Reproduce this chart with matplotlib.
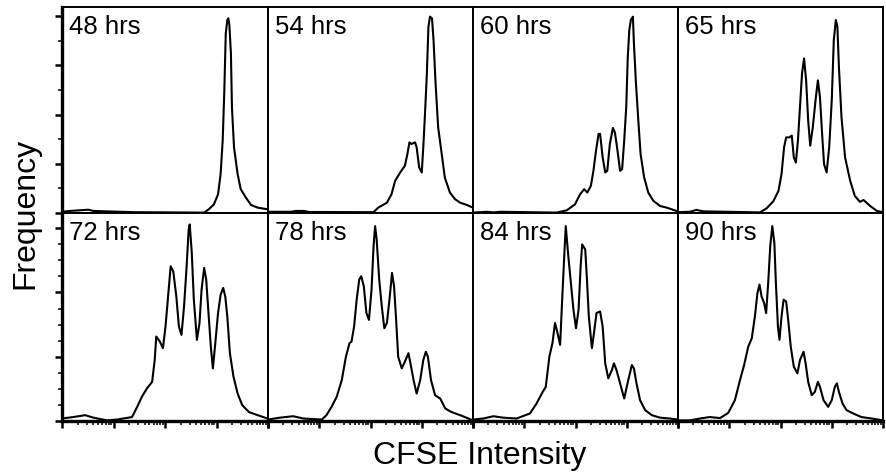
import matplotlib
matplotlib.use("Agg")
import matplotlib.pyplot as plt
import numpy as np
from matplotlib.ticker import LogLocator, MultipleLocator, NullFormatter

plt.rcParams['font.family'] = ['Liberation Sans', 'DejaVu Sans']

# ---- data: log10 CFSE intensity (x) and relative frequency in % of panel height (y)
labels = ["48 hrs", "54 hrs", "60 hrs", "65 hrs", "72 hrs", "78 hrs", "84 hrs", "90 hrs"]

h48_x = [0.0, 0.16, 0.51, 0.61, 1.39, 2.76, 2.85, 2.95, 3.03, 3.08, 3.12, 3.15, 3.18, 3.21, 3.23,
         3.25, 3.28, 3.30, 3.34, 3.41, 3.47, 3.57, 3.67, 3.80, 3.99, 4.0]
h48_y = [0.6, 1.0, 1.6, 1.0, 0.4, 0.2, 1.8, 4.2, 9.1, 18.9, 35.1, 57.9, 87.2, 93.7, 94.5,
         91.2, 77.4, 51.4, 31.9, 18.9, 11.6, 7.5, 3.9, 2.6, 1.8, 1.8]

h54_x = [0.0, 0.45, 0.55, 0.7, 0.8, 2.06, 2.15, 2.32, 2.41, 2.48, 2.58, 2.67, 2.72, 2.76, 2.80,
         2.87, 2.90, 2.95, 3.00, 3.03, 3.06, 3.10, 3.13, 3.16, 3.20, 3.23, 3.27, 3.32, 3.39,
         3.45, 3.55, 3.65, 3.75, 3.88, 4.0]
h54_y = [0.6, 0.6, 1.0, 1.0, 0.5, 0.4, 2.6, 5.0, 9.1, 15.6, 19.7, 22.9, 28.6, 34.3, 33.5,
         34.3, 31.9, 22.1, 19.7, 31.9, 46.5, 67.7, 90.4, 95.3, 94.5, 83.9, 62.8, 41.6, 28.6,
         17.2, 9.9, 6.7, 5.0, 3.9, 2.6]

h60_x = [0.0, 0.27, 0.4, 0.53, 1.63, 1.83, 1.99, 2.09, 2.17, 2.23, 2.30, 2.35, 2.40, 2.45, 2.48,
         2.53, 2.58, 2.62, 2.67, 2.73, 2.77, 2.82, 2.87, 2.91, 2.95, 2.99, 3.02, 3.05, 3.08,
         3.12, 3.14, 3.18, 3.23, 3.27, 3.34, 3.42, 3.52, 3.65, 3.78, 3.97, 4.0]
h60_y = [0.2, 0.6, 0.3, 0.6, 0.2, 1.3, 4.2, 9.1, 11.6, 9.9, 13.2, 20.5, 30.2, 38.4, 38.4,
         27.0, 19.7, 20.5, 33.5, 41.3, 39.0, 30.2, 20.5, 21.3, 35.1, 51.4, 75.8, 88.8, 93.7,
         95.3, 82.3, 62.8, 43.3, 28.6, 17.2, 9.9, 5.9, 3.4, 2.6, 1.0, 1.0]

h65_x = [0.0, 0.23, 0.36, 0.49, 1.60, 1.73, 1.86, 1.96, 2.02, 2.07, 2.11, 2.17, 2.22, 2.26, 2.30,
         2.34, 2.38, 2.42, 2.46, 2.50, 2.54, 2.58, 2.63, 2.69, 2.73, 2.77, 2.82, 2.85, 2.90,
         2.95, 3.00, 3.04, 3.08, 3.11, 3.14, 3.19, 3.26, 3.36, 3.45, 3.55, 3.62, 3.75, 3.88, 4.0]
h65_y = [0.4, 0.6, 1.5, 0.8, 0.3, 2.3, 5.7, 10.7, 18.9, 31.9, 36.7, 36.7, 37.6, 27.0, 24.5,
         35.1, 51.4, 67.7, 75.0, 64.4, 44.9, 32.7, 41.6, 56.2, 64.4, 56.2, 35.1, 23.7, 19.7,
         31.9, 54.6, 83.9, 93.7, 90.4, 70.9, 46.5, 27.0, 15.6, 8.3, 5.4, 6.3, 3.4, 1.0, 0.4]

h72_x = [0.0, 0.22, 0.45, 0.61, 0.87, 1.07, 1.36, 1.46, 1.55, 1.65, 1.75, 1.80, 1.83, 1.90, 1.96,
         2.01, 2.06, 2.11, 2.16, 2.22, 2.27, 2.32, 2.37, 2.42, 2.46, 2.48, 2.52, 2.56, 2.62,
         2.67, 2.71, 2.76, 2.80, 2.84, 2.89, 2.93, 2.97, 3.03, 3.08, 3.13, 3.17, 3.21, 3.26,
         3.33, 3.41, 3.50, 3.63, 3.80, 3.99]
h72_y = [1.2, 1.9, 2.8, 1.6, 0.3, 0.7, 1.9, 6.8, 11.6, 15.7, 18.8, 29.3, 40.6, 38.2, 35.0,
         45.4, 59.9, 74.4, 72.0, 59.9, 45.4, 41.4, 55.1, 74.4, 92.1, 94.5, 80.9, 58.3, 39.0,
         47.1, 63.1, 73.6, 68.0, 53.5, 35.7, 25.3, 35.7, 51.9, 60.7, 64.0, 59.9, 50.2, 32.6,
         21.3, 13.2, 7.6, 4.3, 2.8, 1.2]

h78_x = [0.0, 0.23, 0.49, 0.69, 1.05, 1.14, 1.24, 1.34, 1.44, 1.52, 1.59, 1.63, 1.68, 1.73, 1.78,
         1.82, 1.87, 1.92, 1.97, 2.02, 2.06, 2.09, 2.12, 2.17, 2.22, 2.27, 2.32, 2.37, 2.42,
         2.46, 2.50, 2.54, 2.61, 2.67, 2.74, 2.78, 2.84, 2.90, 2.97, 3.03, 3.08, 3.12, 3.18,
         3.26, 3.36, 3.46, 3.58, 3.75, 3.91, 4.0]
h78_y = [0.7, 1.6, 2.3, 1.2, 0.7, 2.8, 6.8, 11.6, 19.7, 30.9, 37.4, 38.2, 45.4, 58.3, 68.0,
         69.6, 64.7, 51.9, 48.6, 63.1, 84.1, 93.7, 87.3, 68.0, 55.1, 44.6, 47.1, 58.3, 71.2,
         64.7, 48.6, 30.9, 25.3, 28.5, 32.6, 27.7, 19.7, 13.2, 19.7, 29.3, 33.3, 30.9, 19.7,
         12.4, 10.8, 6.0, 4.3, 2.8, 1.2, 0.3]

h84_x = [0.0, 0.20, 0.40, 0.59, 0.85, 1.11, 1.24, 1.36, 1.42, 1.49, 1.55, 1.60, 1.65, 1.70, 1.74,
         1.78, 1.81, 1.86, 1.91, 1.96, 2.01, 2.06, 2.10, 2.13, 2.19, 2.22, 2.26, 2.32, 2.36,
         2.41, 2.48, 2.53, 2.58, 2.64, 2.71, 2.75, 2.80, 2.87, 2.95, 3.03, 3.10, 3.14, 3.19,
         3.26, 3.36, 3.49, 3.65, 3.84, 4.0]
h84_y = [0.7, 1.2, 2.3, 1.6, 1.2, 3.6, 8.4, 14.0, 16.4, 30.9, 37.4, 47.1, 42.2, 36.6, 58.3,
         79.2, 93.7, 79.2, 66.4, 53.5, 44.6, 53.5, 74.4, 84.9, 82.5, 69.6, 50.2, 35.0, 42.2,
         51.9, 52.7, 45.4, 27.7, 20.5, 24.5, 27.7, 24.5, 18.1, 10.8, 19.7, 26.9, 25.3, 18.1,
         10.0, 5.2, 2.8, 1.6, 1.2, 0.7]

h90_x = [0.0, 0.23, 0.43, 0.62, 0.82, 0.98, 1.11, 1.21, 1.29, 1.37, 1.44, 1.50, 1.55, 1.59, 1.63,
         1.68, 1.72, 1.76, 1.80, 1.84, 1.88, 1.91, 1.95, 1.98, 2.02, 2.06, 2.11, 2.15, 2.20,
         2.26, 2.33, 2.38, 2.45, 2.49, 2.54, 2.61, 2.67, 2.73, 2.77, 2.84, 2.93, 3.00, 3.06,
         3.10, 3.14, 3.21, 3.29, 3.42, 3.58, 3.78, 4.0]
h90_y = [0.3, 0.3, 1.2, 1.9, 1.4, 3.9, 10.0, 19.7, 26.9, 35.7, 39.8, 50.2, 61.5, 65.6, 59.9,
         56.7, 51.9, 66.4, 84.1, 93.7, 85.7, 66.4, 45.4, 39.0, 50.2, 58.3, 57.5, 48.6, 35.7,
         26.1, 22.9, 29.3, 33.3, 27.7, 18.8, 12.4, 14.0, 18.8, 16.4, 10.0, 6.8, 10.0, 16.4,
         18.1, 14.0, 8.4, 5.2, 3.6, 1.9, 1.2, 0.3]

series_x = [h48_x, h54_x, h60_x, h65_x, h72_x, h78_x, h84_x, h90_x]
series_y = [h48_y, h54_y, h60_y, h65_y, h72_y, h78_y, h84_y, h90_y]

# ---- layout (pixels of an 886x476 canvas)
W, H = 886, 476
col_edges = [62, 268, 473, 678, 883]
row_edges = [(7, 213), (213, 421)]

fig = plt.figure(figsize=(W / 100, H / 100), dpi=100)

for i in range(8):
    r, c = divmod(i, 4)
    x0, x1 = col_edges[c], col_edges[c + 1]
    t, b = row_edges[r]
    ax = fig.add_axes([x0 / W, 1 - b / H, (x1 - x0) / W, (b - t) / H])
    ax.plot(10 ** np.array(series_x[i]), series_y[i], color='black', lw=1.5)
    ax.set_xscale('log')
    ax.set_xlim(1, 1e4)
    ax.set_ylim(0, 100)
    ax.text(0.035, 0.87, labels[i], transform=ax.transAxes, fontsize=18.5,
            ha='left', va='baseline')
    for s in ax.spines.values():
        s.set_linewidth(1.4)
    if c == 0:
        ax.spines['left'].set_linewidth(2.4)
    if r == 1:
        ax.spines['bottom'].set_linewidth(2.4)
    # ticks
    if r == 1:
        ax.xaxis.set_major_locator(LogLocator(base=10, numticks=10))
        ax.xaxis.set_minor_locator(LogLocator(base=10, subs=np.arange(2, 10), numticks=10))
        ax.tick_params(axis='x', which='major', direction='out', length=5, width=1.8,
                       labelbottom=False)
        ax.tick_params(axis='x', which='minor', direction='out', length=3, width=1.1,
                       labelbottom=False)
    else:
        ax.tick_params(axis='x', which='both', bottom=False, labelbottom=False)
    ax.xaxis.set_minor_formatter(NullFormatter())
    if c == 0:
        if r == 0:
            ax.yaxis.set_major_locator(MultipleLocator(23.9))
            ax.yaxis.set_minor_locator(MultipleLocator(11.95))
        else:
            ax.yaxis.set_major_locator(MultipleLocator(30.9))
            ax.yaxis.set_minor_locator(MultipleLocator(7.725))
        ax.tick_params(axis='y', which='major', direction='out', length=5, width=1.8,
                       labelleft=False)
        ax.tick_params(axis='y', which='minor', direction='out', length=3, width=1.1,
                       labelleft=False)
    else:
        ax.tick_params(axis='y', which='both', left=False, labelleft=False)

fig.text(25 / W, 1 - 213 / H, "Frequency", rotation=90, fontsize=23,
         ha='center', va='center')
fig.text(480 / W, 1 - 456 / H, "CFSE Intensity", fontsize=23,
         ha='center', va='center')

fig.savefig("out.png", dpi=100)
